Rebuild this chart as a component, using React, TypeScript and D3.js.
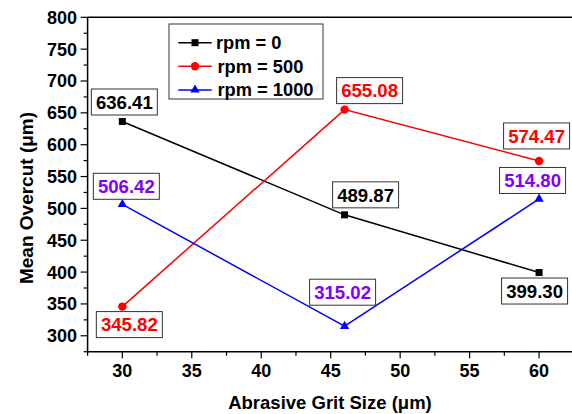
import React from "react";
import * as d3 from "d3";

const gritSizes = [30, 46, 60];
const rpm0 = [636.41, 489.87, 399.3];
const rpm500 = [345.82, 655.08, 574.47];
const rpm1000 = [506.42, 315.02, 514.8];
const seriesNames = ["rpm = 0", "rpm = 500", "rpm = 1000"];
const xTicks = [30, 35, 40, 45, 50, 55, 60];
const yTicks = [300, 350, 400, 450, 500, 550, 600, 650, 700, 750, 800];

// label box offsets (pixels, style only)
const labelOffsets = [
  [[2, -19.5], [21, -20], [-4.5, 18.5]],
  [[7, 18], [25, -19], [-2.5, -25]],
  [[4, -18], [-2, -34], [-6.5, -18.5]],
];

const W = 572;
const H = 414;
const FONT = "'Liberation Sans', Arial, sans-serif";

export default function App() {
  const x = d3.scaleLinear().domain([27.5, 62.5]).range([87.6, 573.8]);
  const y = d3.scaleLinear().domain([275, 800]).range([351.7, 17.3]);
  const series = [
    { name: seriesNames[0], values: rpm0, color: "#000000", label: "#000000", marker: "square" },
    { name: seriesNames[1], values: rpm500, color: "#ff0000", label: "#ff0000", marker: "circle" },
    { name: seriesNames[2], values: rpm1000, color: "#0000ff", label: "#8000ff", marker: "triangle" },
  ];
  const line = d3
    .line<[number, number]>()
    .x((d) => x(d[0]))
    .y((d) => y(d[1]));

  const marker = (type: string, cx: number, cy: number, color: string, key: any) => {
    if (type === "square")
      return <rect key={key} x={cx - 3.5} y={cy - 3.5} width={7} height={7} fill={color} />;
    if (type === "circle") return <circle key={key} cx={cx} cy={cy} r={4.2} fill={color} />;
    const tri = d3.symbol().type(d3.symbolTriangle).size(38)();
    return <path key={key} d={tri || ""} transform={`translate(${cx},${cy})`} fill={color} />;
  };

  const xMinor = d3.range(27.5, 62.6, 2.5);
  const yMinor = d3.range(275, 801, 25);

  const x0 = x(27.5);
  const yb = y(275);

  return (
    <svg
      width={W}
      height={H}
      style={{ position: "absolute", left: 0, top: 0, background: "#fff" }}
      fontFamily={FONT}
      fontWeight="bold"
    >
      {/* series lines */}
      {series.map((s, i) => (
        <path
          key={"l" + i}
          d={line(gritSizes.map((g, j) => [g, s.values[j]] as [number, number])) || ""}
          fill="none"
          stroke={s.color}
          strokeWidth={1.5}
        />
      ))}
      {series.map((s, i) =>
        gritSizes.map((g, j) => marker(s.marker, x(g), y(s.values[j]), s.color, "m" + i + j))
      )}

      {/* data labels */}
      {series.map((s, i) =>
        gritSizes.map((g, j) => {
          const cx = x(g) + labelOffsets[i][j][0];
          const cy = y(s.values[j]) + labelOffsets[i][j][1];
          return (
            <g key={"lab" + i + j}>
              <rect
                x={cx - 33}
                y={cy - 13}
                width={66}
                height={26}
                fill="#fff"
                stroke="#333"
                strokeWidth={1}
              />
              <text x={cx} y={cy + 6.8} textAnchor="middle" fontSize={18.6} fill={s.label}>
                {s.values[j].toFixed(2)}
              </text>
            </g>
          );
        })
      )}

      {/* axes */}
      <line x1={x0} x2={x0} y1={y(800)} y2={yb + 0.75} stroke="#000" strokeWidth={1.5} />
      <line x1={x0 - 0.75} x2={W} y1={yb} y2={yb} stroke="#000" strokeWidth={1.5} />
      <line x1={x0} x2={W} y1={y(800)} y2={y(800)} stroke="#000" strokeWidth={1.5} />

      {yMinor.map((v) => (
        <line
          key={"ym" + v}
          x1={x0}
          x2={x0 - (v % 50 === 0 ? 7 : 4)}
          y1={y(v)}
          y2={y(v)}
          stroke="#000"
          strokeWidth={1.2}
        />
      ))}
      {xMinor.map((v) => (
        <line
          key={"xm" + v}
          x1={x(v)}
          x2={x(v)}
          y1={yb}
          y2={yb + (v % 5 === 0 ? 6.5 : 4)}
          stroke="#000"
          strokeWidth={1.2}
        />
      ))}
      {yTicks.map((v) => (
        <text key={"yt" + v} x={77} y={y(v) + 6.5} textAnchor="end" fontSize={18} fill="#000">
          {v}
        </text>
      ))}
      {xTicks.map((v) => (
        <text key={"xt" + v} x={x(v)} y={376.5} textAnchor="middle" fontSize={18} fill="#000">
          {v}
        </text>
      ))}

      <text x={330} y={408.5} textAnchor="middle" fontSize={18.5} fill="#000">
        Abrasive Grit Size (μm)
      </text>
      <text
        transform={`translate(33,198) rotate(-90)`}
        textAnchor="middle"
        fontSize={19}
        fill="#000"
      >
        Mean Overcut (μm)
      </text>

      {/* legend */}
      <rect x={169} y={24} width={154} height={75} fill="#fff" stroke="#333" strokeWidth={1} />
      {series.map((s, i) => {
        const ly = 42.7 + i * 23.6;
        return (
          <g key={"lg" + i}>
            <line x1={178.3} x2={211.7} y1={ly} y2={ly} stroke={s.color} strokeWidth={1.5} />
            {marker(s.marker, 195, ly, s.color, "lgm" + i)}
            <text x={i === 0 ? 216 : 217.5} y={ly + 6.5} fontSize={18.3} fill="#000">
              {s.name}
            </text>
          </g>
        );
      })}
    </svg>
  );
}
